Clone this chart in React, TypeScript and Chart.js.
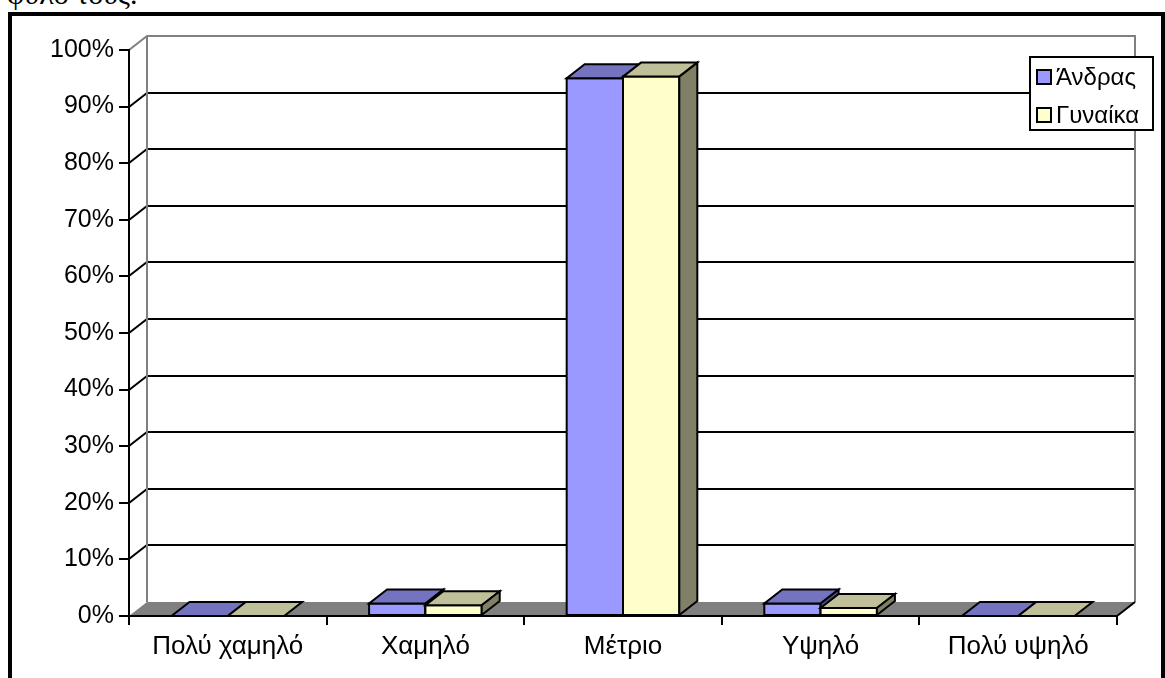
import React, { useEffect, useRef } from 'react';
import { Chart, registerables } from 'chart.js';

Chart.register(...registerables);

const categories = ['Πολύ χαμηλό', 'Χαμηλό', 'Μέτριο', 'Υψηλό', 'Πολύ υψηλό'];
const seriesNames = ['Άνδρας', 'Γυναίκα'];
const menValues = [0, 0.022, 0.95, 0.022, 0];
const womenValues = [0, 0.019, 0.953, 0.014, 0];
const frontColors = ['#9999FF', '#FFFFCC'];
const topColors = ['#7373BF', '#BFBF99'];
const sideColors = ['#4D4D80', '#808066'];
const yMax = 1;
const yStep = 0.1;

const DX = 18;
const DY = 14;
const FONT = 'Liberation Sans';

const box3d = {
  id: 'box3d',
  beforeDraw(chart: any) {
    const { ctx, chartArea } = chart;
    const { left, right, top, bottom } = chartArea;
    const ys = chart.scales.y;
    ctx.save();
    ctx.fillStyle = '#808080';
    ctx.beginPath();
    ctx.moveTo(left, bottom);
    ctx.lineTo(right, bottom);
    ctx.lineTo(right + DX, bottom - DY);
    ctx.lineTo(left + DX, bottom - DY);
    ctx.closePath();
    ctx.fill();
    ctx.lineWidth = 2;
    ctx.strokeStyle = '#000000';
    ctx.beginPath();
    ys.ticks.forEach((t: any) => {
      if (t.value <= 0 || t.value >= yMax) return;
      const yy = Math.round(ys.getPixelForValue(t.value));
      ctx.moveTo(left, yy);
      ctx.lineTo(left + DX, yy - DY);
      ctx.lineTo(right + DX, yy - DY);
    });
    ctx.stroke();
    ctx.strokeStyle = '#808080';
    ctx.beginPath();
    ctx.moveTo(left, top);
    ctx.lineTo(left + DX, top - DY);
    ctx.lineTo(right + DX, top - DY);
    ctx.lineTo(right + DX, bottom - DY);
    ctx.moveTo(left + DX, top - DY);
    ctx.lineTo(left + DX, bottom - DY);
    ctx.stroke();
    ctx.strokeStyle = '#000000';
    ctx.beginPath();
    ctx.moveTo(right, bottom);
    ctx.lineTo(right + DX, bottom - DY);
    ctx.stroke();
    ctx.restore();
  },
  afterDatasetsDraw(chart: any) {
    const { ctx } = chart;
    ctx.save();
    ctx.lineWidth = 2;
    ctx.strokeStyle = '#000000';
    ctx.lineJoin = 'miter';
    const n = chart.data.labels.length;
    for (let i = 0; i < n; i++) {
      chart.data.datasets.forEach((ds: any, d: number) => {
        const el = chart.getDatasetMeta(d).data[i];
        const { x, y, base, width } = el.getProps(['x', 'y', 'base', 'width'], true);
        const L = x - width / 2;
        const R = x + width / 2;
        const T = Math.min(y, base);
        const B = Math.max(y, base);
        if (B - T > 0.5) {
          ctx.fillStyle = frontColors[d];
          ctx.beginPath();
          ctx.rect(L, T, R - L, B - T);
          ctx.fill();
          ctx.stroke();
        }
        ctx.fillStyle = topColors[d];
        ctx.beginPath();
        ctx.moveTo(L, T);
        ctx.lineTo(R, T);
        ctx.lineTo(R + DX, T - DY);
        ctx.lineTo(L + DX, T - DY);
        ctx.closePath();
        ctx.fill();
        ctx.stroke();
        if (B - T > 0.5) {
          ctx.fillStyle = sideColors[d];
          ctx.beginPath();
          ctx.moveTo(R, T);
          ctx.lineTo(R + DX, T - DY);
          ctx.lineTo(R + DX, B - DY);
          ctx.lineTo(R, B);
          ctx.closePath();
          ctx.fill();
          ctx.stroke();
        }
      });
    }
    ctx.restore();
  },
  afterDraw(chart: any) {
    const { ctx } = chart;
    ctx.save();
    const bx = 1029, by = 56, bw = 125, bh = 75;
    ctx.fillStyle = '#ffffff';
    ctx.fillRect(bx, by, bw, bh);
    ctx.lineWidth = 2;
    ctx.strokeStyle = '#000000';
    ctx.strokeRect(bx + 1, by + 1, bw - 2, bh - 2);
    ctx.font = `24px "${FONT}"`;
    ctx.textBaseline = 'middle';
    ctx.textAlign = 'left';
    chart.data.datasets.forEach((ds: any, d: number) => {
      const cy = 77 + d * 38;
      ctx.fillStyle = frontColors[d];
      ctx.fillRect(1037, cy - 7, 14, 14);
      ctx.strokeRect(1037, cy - 7, 14, 14);
      ctx.fillStyle = '#000000';
      ctx.fillText(ds.label, 1056, cy + 1);
    });
    ctx.restore();
  },
};

export default function App() {
  const ref = useRef<HTMLCanvasElement | null>(null);
  useEffect(() => {
    if (!ref.current) return;
    const chart = new Chart(ref.current, {
      type: 'bar',
      data: {
        labels: categories,
        datasets: [
          { label: seriesNames[0], data: menValues, backgroundColor: frontColors[0], borderColor: '#000', borderWidth: 2, borderSkipped: false },
          { label: seriesNames[1], data: womenValues, backgroundColor: frontColors[1], borderColor: '#000', borderWidth: 2, borderSkipped: false },
        ],
      },
      options: {
        responsive: false,
        animation: false,
        layout: { padding: { left: 0, top: 50, right: 48, bottom: 0 } },
        datasets: { bar: { categoryPercentage: 0.57, barPercentage: 1 } },
        plugins: { legend: { display: false }, tooltip: { enabled: false } },
        scales: {
          x: {
            type: 'category',
            grid: { offset: true, drawOnChartArea: false, tickLength: 9, color: '#000', lineWidth: 2 },
            border: { color: '#000', width: 2 },
            ticks: { color: '#000', font: { family: FONT, size: 26 }, padding: 6, maxRotation: 0 },
            afterFit: (s: any) => { s.height = 62; },
          },
          y: {
            min: 0,
            max: yMax,
            ticks: {
              stepSize: yStep,
              color: '#000',
              font: { family: FONT, size: 25 },
              padding: 5,
              callback: (v: any) => Math.round(Number(v) * 100) + '%',
            },
            grid: { drawOnChartArea: false, tickLength: 10, color: '#000', lineWidth: 2 },
            border: { color: '#000', width: 2 },
            afterFit: (s: any) => { s.width = 129; },
          },
        },
      },
      plugins: [box3d],
    });
    return () => chart.destroy();
  }, []);
  return (
    <div style={{ position: 'fixed', left: 0, top: 0, width: 1165, height: 678, overflow: 'hidden', background: '#fff' }}>
      <div style={{ position: 'absolute', left: 7, top: -21, color: '#000', fontFamily: '"Liberation Serif", serif', fontSize: 30, lineHeight: '30px', whiteSpace: 'nowrap' }}>φύλο τους.</div>
      <div style={{ position: 'absolute', left: 8, top: 12, width: 1149, height: 720, border: '4px solid #000' }} />
      <canvas ref={ref} width={1165} height={678} style={{ position: 'absolute', left: 0, top: 0 }} />
    </div>
  );
}
